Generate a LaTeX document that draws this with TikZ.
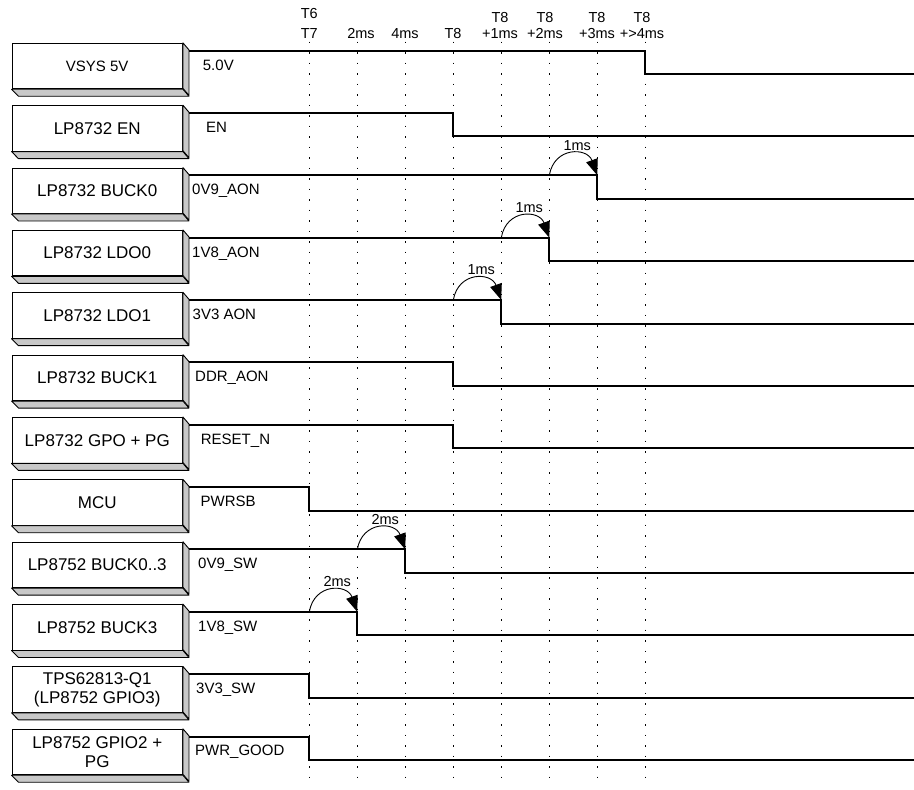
\documentclass[tikz,border=0pt]{standalone}
\usepackage{fontspec}
\setmainfont{Liberation Sans}
\usetikzlibrary{arrows.meta}
\definecolor{sidegray}{RGB}{200,200,200}
\tikzset{
 boxtext/.style={font=\fontsize{17}{19}\selectfont, align=center},
 siglabel/.style={font=\fontsize{15}{16}\selectfont, anchor=base west, inner sep=0pt},
 hdr/.style={font=\fontsize{14.5}{16}\selectfont, align=center, inner sep=0pt, anchor=base},
 hdrtall/.style={hdr, font=\fontsize{14.5}{20}\selectfont},
 sigline/.style={line width=2pt},
 dotline/.style={line width=1.5pt, dash pattern=on 1.5pt off 9pt},
 delayarc/.style={line width=0.9pt, -{Triangle[length=16pt,width=12pt]}},
 frontface/.style={draw=black, line width=0.9pt, fill=white, minimum width=170.5pt, minimum height=45.5pt, inner sep=0pt},
 sideface/.style={draw=black, line width=0.9pt, fill=sidegray, line join=round},
}
\begin{document}
\begin{tikzpicture}[x=1pt,y=-1pt]
\useasboundingbox (0,0) rectangle (914,790);
% dotted time markers
\foreach \k in {0,...,7} {
  \coordinate (dt\k) at ({309.3+48*\k},41.5);
  \coordinate (db\k) at ({309.3+48*\k},785);
  \draw[dotline] (dt\k) -- (db\k);
}
% header labels (base = baseline of last line)
\node[hdrtall] (h0) at (309.3,38.4) {T6\\T7};
\node[hdr] (h1) at (361,38.4) {2ms};
\node[hdr] (h2) at (405,38.4) {4ms};
\node[hdr] (h3) at (453,38.4) {T8};
\node[hdr] (h4) at (500,38.4) {T8\\+1ms};
\node[hdr] (h5) at (545,38.4) {T8\\+2ms};
\node[hdr] (h6) at (597,38.4) {T8\\+3ms};
\node[hdr] (h7) at (642,38.4) {T8\\+>4ms};
% rows
\foreach \i/\name/\sig/\lx/\t/\fs in {
  0/{VSYS 5V}/{5.0V}/202.7/7/15,
  1/{LP8732 EN}/{EN}/206/3/17,
  2/{LP8732 BUCK0}/{0V9\_AON}/192/6/17,
  3/{LP8732 LDO0}/{1V8\_AON}/192/5/17,
  4/{LP8732 LDO1}/{3V3 AON}/192.5/4/17,
  5/{LP8732 BUCK1}/{DDR\_AON}/195/3/17,
  6/{LP8732 GPO + PG}/{RESET\_N}/200.7/3/17,
  7/{MCU}/{PWRSB}/200.5/0/17,
  8/{LP8752 BUCK0..3}/{0V9\_SW}/198/2/17,
  9/{LP8752 BUCK3}/{1V8\_SW}/198/1/17,
  10/{TPS62813-Q1\\(LP8752 GPIO3)}/{3V3\_SW}/196/0/17,
  11/{LP8752 GPIO2 +\\PG}/{PWR\_GOOD}/195/0/17} {
  \pgfmathsetmacro{\yz}{43.3+62.36*\i}
  \pgfmathsetmacro{\hi}{\yz+7.3}
  \pgfmathsetmacro{\lo}{\hi+23.5}
  \pgfmathsetmacro{\tx}{309.3+48*\t}
  \node[frontface, boxtext, font=\fontsize{\fs}{19}\selectfont] (box\i) at (97.25,{\yz+22.75}) {\name};
  \draw[sideface] (box\i.north east) -- ++(6,7) -- ++(0,45.5) -- ++(-6,-7) -- cycle;
  \draw[sideface] (box\i.south west) -- (box\i.south east) -- ++(6,7) -- ++(-170.5,0) -- cycle;
  \coordinate (s\i) at (188.5,\hi);
  \coordinate (c\i) at (\tx,\hi);
  \coordinate (d\i) at (\tx,\lo);
  \coordinate (e\i) at (914,\lo);
  \draw[sigline] (s\i) -- (c\i) -- (d\i) -- (e\i);
  \node[siglabel] (l\i) at (\lx,{\hi+19.4}) {\sig};
}
% delay arcs
\foreach \i/\a/\t in {2/5/1ms, 3/4/1ms, 4/3/1ms, 8/1/2ms, 9/0/2ms} {
  \pgfmathsetmacro{\hi}{43.3+62.36*\i+7.3}
  \pgfmathsetmacro{\xa}{309.3+48*\a}
  \coordinate (a\i) at (\xa,\hi);
  \draw[delayarc] (a\i) .. controls +(5,-29) and +(-10,-28) .. (c\i);
  \node[hdr, anchor=center] (dl\i) at ({\xa+28},{\hi-30}) {\t};
}
\end{tikzpicture}
\end{document}
